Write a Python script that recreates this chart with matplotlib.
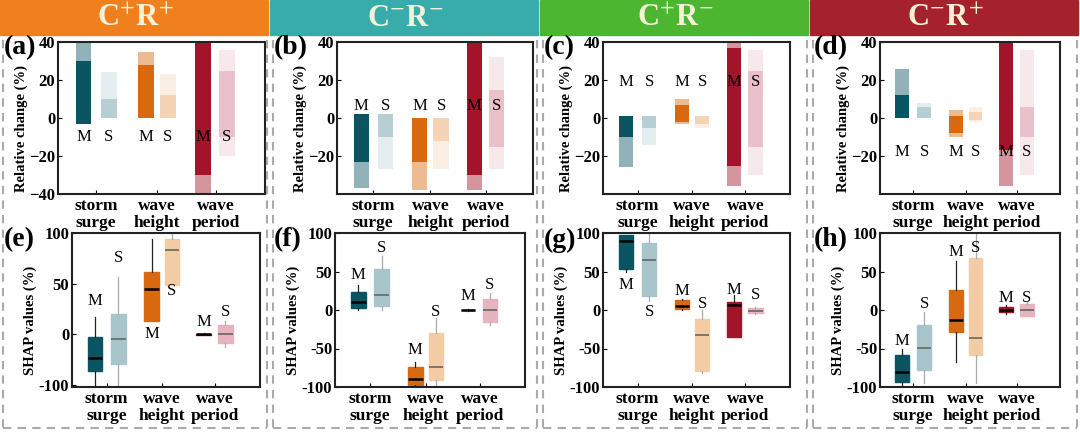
import matplotlib
matplotlib.use("Agg")
import matplotlib.pyplot as plt
from matplotlib.patches import Rectangle
from matplotlib.lines import Line2D

plt.rcParams['font.family'] = ['Liberation Serif', 'DejaVu Serif']
plt.rcParams['mathtext.fontset'] = 'stix'

headers = ["C$^{+}$R$^{+}$", "C$^{-}$R$^{-}$", "C$^{+}$R$^{-}$", "C$^{-}$R$^{+}$"]
header_colors = ["#f0801e", "#38acab", "#4cb630", "#a5222c"]
top_letters = ["(a)", "(b)", "(c)", "(d)"]
bot_letters = ["(e)", "(f)", "(g)", "(h)"]
categories = ["storm\nsurge", "wave\nheight", "wave\nperiod"]
m_colors = ["#0b5563", "#d8690e", "#a3142a"]
s_colors = ["#a8c5cc", "#f3cca6", "#e6b3bf"]

# strips: per panel, per variable: (M: min, dense_min, dense_max, max), (S: same)
strips = [
    [((-3, -3, 30, 40), (0, 0, 10, 24)), ((0, 0, 28, 35), (0, 0, 12, 23)), ((-40, -30, 40, 40), (-20, -10, 25, 36))],
    [((-37, -23, 2, 2), (-27, -10, 2, 2)), ((-38, -23, 0, 0), (-27, -12, 0, 0)), ((-38, -30, 40, 40), (-27, -15, 15, 32))],
    [((-26, -10, 1, 1), (-14, -5, 1, 1)), ((-3, -2, 7, 10), (-5, -3, 1, 1)), ((-36, -25, 37, 40), (-30, -15, 25, 36))],
    [((0, 0, 12, 26), (0, 0, 6, 8)), ((-10, -8, 1, 4), (-2, -1, 3, 6)), ((-36, -17, 40, 40), (-30, -10, 6, 36))],
]
strip_label_y = [-10, 6.5, 19, -18]
top_yticks = [[40, 20, 0, -20, -40], [40, 20, 0, -20], [40, 20, 0, -20], [40, 20, 0, -20]]

# boxes: (whislo, q1, med, q3, whishi) for M and S
boxes = [
    [((-52, -36, -23, -3, 17), (-52, -29, -5, 20, 57)), ((13, 13, 45, 62, 94), (49, 49, 83, 94, 100)), ((-1, -0.5, 0, 0.5, 1), (-13, -9, 0, 9, 13))],
    [((0, 3, 10, 24, 32), (0, 5, 20, 53, 70)), ((-100, -98, -90, -74, -67), (-100, -91, -74, -30, -10)), ((-1, -0.5, 0, 0.5, 1), (-20, -16, 0, 14, 22))],
    [((50, 53, 90, 97, 97), (12, 18, 65, 87, 100)), ((0, 1, 5, 13, 14), (-82, -79, -33, -12, 0)), ((-35, -35, 6, 11, 20), (-5, -4, -1, 3, 4))],
    [((-100, -94, -80, -58, -50), (-95, -78, -49, -20, -2)), ((-67, -28, -13, 26, 63), (-95, -58, -37, 68, 100)), ((-5, -2, 0, 4, 6), (-8, -8, 0, 8, 10))],
]
box_label_y = [
    [(33, 75), (0, 43), (12, 22)],
    [(45, 80), (-52, -2), (18, 33)],
    [(32, -2), (25, 8), (26, 20)],
    [(-40, 8), (75, 80), (16, 16)],
]
bot_ylims = [(-52, 100), (-100, 100), (-100, 100), (-100, 100)]
bot_yticks = [[100, 50, 0, -50], [100, 50, 0, -50, -100], [100, 50, 0, -50, -100], [100, 50, 0, -50, -100]]
bot_yticklabels = [["100", "50", "0", "-100"], ["100", "50", "0", "-50", "-100"],
                   ["100", "50", "0", "-50", "-100"], ["100", "50", "0", "-50", "-100"]]

W, H = 1080, 432
fig = plt.figure(figsize=(10.8, 4.32), dpi=100)
m_pos = [0.8, 2.75, 4.55]
s_pos = [1.6, 3.45, 5.3]
mid = [1.2, 3.1, 4.95]
top_x = [(58, 265), (337, 533), (603, 790), (880, 1060)]
bot_x = [(72, 260), (335, 525), (603, 790), (880, 1060)]

def fa(x0, y0, x1, y1):
    return fig.add_axes([x0 / W, 1 - y1 / H, (x1 - x0) / W, (y1 - y0) / H])

for c in range(4):
    cx = c * 270
    fig.patches.append(Rectangle((cx / W, 1 - 35 / H), 268 / W, 35 / H, transform=fig.transFigure,
                                 color=header_colors[c], zorder=0))
    fig.text((cx + 135) / W, 1 - 18 / H, headers[c], ha='center', va='center', fontsize=22,
             fontweight='bold', color='#f6f2d8')
    for xx in (cx + 3, cx + 267):
        fig.add_artist(Line2D([xx / W, xx / W], [1 - 40 / H, 1 - 428 / H], transform=fig.transFigure,
                              color='#aaaaaa', lw=1.5, ls=(0, (4, 3))))
    fig.add_artist(Line2D([(cx + 3) / W, (cx + 267) / W], [1 - 428 / H, 1 - 428 / H], transform=fig.transFigure,
                          color='#aaaaaa', lw=1.5, ls=(0, (4, 3))))
    x0, x1 = top_x[c]
    ax = fa(x0, 42, x1, 194)
    for v in range(3):
        for pos, st, col in ((m_pos[v], strips[c][v][0], m_colors[v]), (s_pos[v], strips[c][v][1], s_colors[v])):
            lo, dlo, dhi, hi = st
            light = col in s_colors
            ax.bar(pos, hi - lo, bottom=lo, width=0.5, color=col, alpha=0.3 if light else 0.45, lw=0)
            ax.bar(pos, dhi - dlo, bottom=dlo, width=0.5, color=col, alpha=0.75 if light else 1.0, lw=0)
        ax.text(m_pos[v], strip_label_y[c], "M", ha='center', va='center', fontsize=12)
        ax.text(s_pos[v], strip_label_y[c], "S", ha='center', va='center', fontsize=12)
    ax.set_ylim(-40, 40)
    ax.set_yticks(top_yticks[c])
    ax.set_ylabel("Relative change (%)", fontsize=10.5, fontweight='bold', labelpad=1, y=0.43)
    x0, x1 = bot_x[c]
    bx = fa(x0, 233, x1, 387)
    stats, poss, fcols, mcols = [], [], [], []
    for v in range(3):
        for k, (pos, col) in enumerate(((m_pos[v], m_colors[v]), (s_pos[v], s_colors[v]))):
            wl, q1, md, q3, wh = boxes[c][v][k]
            stats.append(dict(whislo=wl, q1=q1, med=md, q3=q3, whishi=wh, fliers=[]))
            poss.append(pos)
            fcols.append(col)
            mcols.append('black' if k == 0 else '#666666')
        bx.text(m_pos[v], box_label_y[c][v][0], "M", ha='center', va='center', fontsize=12)
        bx.text(s_pos[v], box_label_y[c][v][1], "S", ha='center', va='center', fontsize=12)
    bp = bx.bxp(stats, positions=poss, widths=0.5, patch_artist=True, showcaps=False)
    for i, b in enumerate(bp['boxes']):
        b.set_facecolor(fcols[i]); b.set_edgecolor(fcols[i])
        bp['medians'][i].set_color(mcols[i]); bp['medians'][i].set_linewidth(1.8 if i % 2 == 0 else 1.2)
        for w in bp['whiskers'][2 * i:2 * i + 2]:
            w.set_color('#222222' if i % 2 == 0 else '#aaaaaa'); w.set_linewidth(0.9)
    bx.set_ylim(*bot_ylims[c])
    bx.set_yticks(bot_yticks[c])
    bx.set_yticklabels(bot_yticklabels[c])
    bx.set_ylabel("SHAP values (%)", fontsize=10.5, fontweight='bold', labelpad=1, y=0.43)
    for a in (ax, bx):
        a.set_xlim(0, 6.5)
        a.set_xticks(mid)
        a.set_xticklabels(categories, fontsize=12.5, fontweight='bold', linespacing=1.05)
        a.tick_params(axis='y', labelsize=12, direction='in', length=3, pad=2)
        a.tick_params(axis='x', direction='in', length=3, pad=3)
        for lab in a.get_yticklabels():
            lab.set_fontweight('bold')
        for s in a.spines.values():
            s.set_linewidth(1.5); s.set_color('#222222')
    fig.text((cx + 4) / W, 1 - 48 / H, top_letters[c], fontsize=20, fontweight='bold', va='center')
    fig.text((cx + 4) / W, 1 - 240 / H, bot_letters[c], fontsize=20, fontweight='bold', va='center')

fig.savefig("out.png", dpi=100)
